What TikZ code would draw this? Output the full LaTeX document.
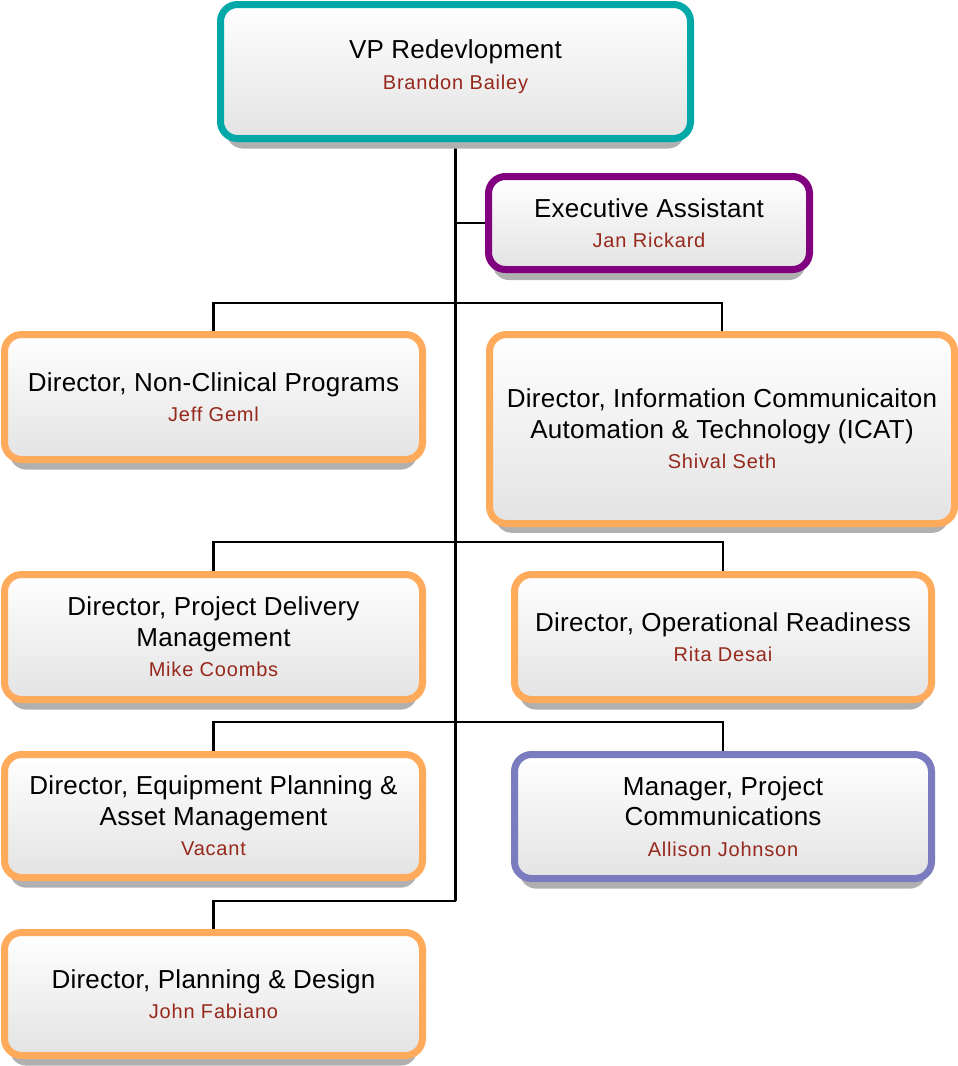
\documentclass[tikz,border=0pt]{standalone}
\usepackage{fontspec}
\setmainfont[LetterSpace=1]{Liberation Sans}
\newfontfamily\namefont[LetterSpace=4]{Liberation Sans}
\usetikzlibrary{shadows,backgrounds}
\definecolor{cteal}{RGB}{0,168,168}
\definecolor{cpurple}{RGB}{128,0,128}
\definecolor{corange}{RGB}{255,171,91}
\definecolor{cperi}{RGB}{123,123,192}
\definecolor{namered}{RGB}{150,40,28}
\tikzset{
  orgbox/.style={draw=#1, line width=7pt, rounded corners=17pt,
    top color=white, bottom color=black!11, align=center, inner sep=0pt,
    font=\fontsize{26}{30.5}\selectfont, text=black,
    drop shadow={shadow xshift=0pt, shadow yshift=-12pt, shadow scale=0.975,
      fill=black!31, opacity=1}},
  link/.style={line width=2.6pt, draw=black},
}
\newcommand\nm[1]{{\color{namered}\namefont\fontsize{20}{30.5}\selectfont #1}}
\newcommand\orgbox[7]{\node[orgbox=#6, minimum width={#4-#2-7}, minimum height={#5-#3-7}]
  (#1) at ({(#2+#4)/2},{(#3+#5)/2}) {#7};}
\begin{document}
\begin{tikzpicture}[x=1pt,y=-1pt]
\useasboundingbox (0,0) rectangle (958,1066);
\orgbox{vp}{217}{1}{694}{142}{cteal}{VP Redevlopment\\\nm{Brandon Bailey}\rule[-14pt]{0pt}{14pt}}
\orgbox{ea}{485}{173}{813}{273}{cpurple}{Executive Assistant\\\nm{Jan Rickard}}
\orgbox{nc}{1}{331}{426}{463}{corange}{Director, Non-Clinical Programs\\\nm{Jeff Geml}}
\orgbox{icat}{486}{331}{958}{527}{corange}{Director, Information Communicaiton\\Automation \& Technology (ICAT)\\\nm{Shival Seth}}
\orgbox{pd}{1}{571}{426}{703}{corange}{Director, Project Delivery\\Management\\\nm{Mike Coombs}}
\orgbox{or}{511}{571}{935}{703}{corange}{Director, Operational Readiness\\\nm{Rita Desai}}
\orgbox{eq}{1}{751}{426}{881}{corange}{Director, Equipment Planning \&\\Asset Management\\\nm{Vacant}}
\orgbox{mpc}{511}{751}{935}{882}{cperi}{Manager, Project\\Communications\\\nm{Allison Johnson}}
\orgbox{pdd}{1}{929}{426}{1059}{corange}{Director, Planning \& Design\\\nm{John Fabiano}}
\coordinate (b1) at (455.5,303);
\coordinate (b2) at (455.5,542);
\coordinate (b3) at (455.5,722);
\coordinate (b4) at (455.5,901);
\begin{pgfonlayer}{background}
\draw[link] (vp.south) -- (b4);
\draw[link] (vp.south |- ea.west) -- (ea.west);
\draw[link] (nc.north) |- (b1) -| (icat.north);
\draw[link] (pd.north) |- (b2) -| (or.north);
\draw[link] (eq.north) |- (b3) -| (mpc.north);
\draw[link] (b4) -| (pdd.north);
\end{pgfonlayer}
\end{tikzpicture}
\end{document}
